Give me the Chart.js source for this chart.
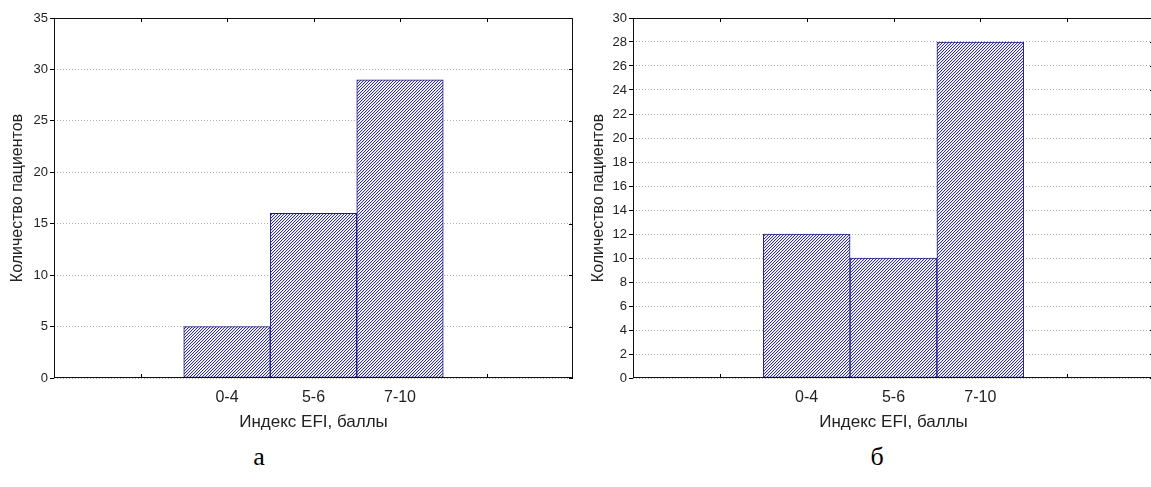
<!DOCTYPE html>
<html>
<head>
<meta charset="utf-8">
<script src="https://cdn.jsdelivr.net/npm/chart.js@4.4.1/dist/chart.umd.min.js"></script>
<style>
  html, body { margin: 0; padding: 0; background: #fff; }
  body { width: 1151px; height: 487px; position: relative; overflow: hidden; }
  #wrapA { position: absolute; left: 0; top: 0; width: 580px; height: 440px; }
  #wrapB { position: absolute; left: 580px; top: 0; width: 576px; height: 440px; }
  .cap { position: absolute; font-family: "Liberation Serif", "Times New Roman", serif; font-size: 26px; color: #000; transform: translate(-50%, -50%); line-height: 1; }
</style>
</head>
<body>
<div id="wrapA"><canvas id="chartA"></canvas></div>
<div id="wrapB"><canvas id="chartB"></canvas></div>
<div class="cap" style="left:259px; top:457px;">а</div>
<div class="cap" style="left:877px; top:457px;">б</div>

<script>
// EFI index groups and patient counts for the two cohorts
const categories = ['0-4', '5-6', '7-10'];
const patientsA = [5, 16, 29];
const patientsB = [12, 10, 28];

// value-axis tick settings for each panel
const yTicksA = { max: 35, step: 5 };
const yTicksB = { max: 30, step: 2 };

const xTitle = 'Индекс EFI, баллы';
const yTitle = 'Количество пациентов';

// two empty slots on each side of the groups
const pad = ['', ''];
const slotLabels = [...pad, ...categories, ...pad];
const slotData = vals => [...pad.map(() => null), ...vals, ...pad.map(() => null)];

function hatchPattern() {
  const c = document.createElement('canvas');
  c.width = 3; c.height = 3;
  const g = c.getContext('2d');
  g.fillStyle = '#ffffff';
  g.fillRect(0, 0, 3, 3);
  for (let i = 0; i < 3; i++) {
    g.fillStyle = '#34349a';
    g.fillRect(i, 2 - i, 1, 1);
    g.fillStyle = '#dcdcee';
    g.fillRect((i + 1) % 3, 2 - i, 1, 1);
  }
  return g.createPattern(c, 'repeat');
}

// full frame plus the small inward ticks on the top, bottom and right edges
const framePlugin = {
  id: 'frame',
  beforeDatasetsDraw(chart) {
    const { ctx, chartArea: a, scales: { x, y } } = chart;
    ctx.save();
    ctx.strokeStyle = '#000';
    ctx.lineWidth = 1;
    ctx.beginPath();
    const n = x.getLabels().length;
    for (let i = 1; i < n - 1; i++) {
      const px = Math.round(x.getPixelForTick(i)) + 0.5;
      ctx.moveTo(px, a.top); ctx.lineTo(px, a.top + 4);
      ctx.moveTo(px, a.bottom); ctx.lineTo(px, a.bottom - 4);
    }
    y.ticks.forEach((t, i) => {
      const py = Math.round(y.getPixelForTick(i)) + 0.5;
      ctx.moveTo(a.right, py); ctx.lineTo(a.right - 4, py);
    });
    ctx.stroke();
    ctx.restore();
  },
  afterDatasetsDraw(chart) {
    const { ctx, chartArea: a } = chart;
    ctx.save();
    ctx.strokeStyle = '#111';
    ctx.lineWidth = 1;
    const l = Math.round(a.left) + 0.5, t = Math.round(a.top) + 0.5;
    const r = Math.round(a.right) - 0.5, b = Math.round(a.bottom) - 0.5;
    ctx.strokeRect(l, t, r - l, b - t);
    ctx.restore();
  }
};

function makeChart(id, values, yt, axisWidth, rightPad, titlePadTop) {
  return new Chart(document.getElementById(id), {
    type: 'bar',
    data: {
      labels: slotLabels,
      datasets: [{
        data: slotData(values),
        backgroundColor: hatchPattern(),
        borderColor: '#1c1c84',
        borderWidth: 1,
        borderSkipped: false,
        barPercentage: 1,
        categoryPercentage: 1
      }]
    },
    options: {
      responsive: true,
      maintainAspectRatio: false,
      animation: false,
      layout: { padding: { top: 18, right: rightPad, bottom: 0, left: 0 } },
      plugins: { legend: { display: false }, tooltip: { enabled: false } },
      scales: {
        x: {
          type: 'category',
          offset: false,
          grid: { display: false },
          border: { display: false },
          ticks: {
            autoSkip: false, maxRotation: 0, padding: 2,
            color: '#222',
            font: { family: '"Liberation Sans", Arial, sans-serif', size: 16 }
          },
          title: {
            display: true, text: xTitle, color: '#222',
            font: { family: '"Liberation Sans", Arial, sans-serif', size: 17 },
            padding: { top: 0, bottom: 7 }
          },
          afterFit(s) { s.height = 62; }
        },
        y: {
          min: 0, max: yt.max,
          grid: {
            color: '#b0b0b0', lineWidth: 1,
            drawTicks: true, tickLength: 4, tickColor: '#000', tickBorderDash: []
          },
          border: { display: false, dash: [1, 2] },
          ticks: {
            stepSize: yt.step, padding: 2, color: '#222',
            font: { family: '"Liberation Sans", Arial, sans-serif', size: 13 }
          },
          title: {
            display: true, text: yTitle, color: '#222',
            font: { family: '"Liberation Sans", Arial, sans-serif', size: 16 },
            padding: { top: titlePadTop, bottom: 0 }
          },
          afterFit(s) { s.width = axisWidth; }
        }
      }
    },
    plugins: [framePlugin]
  });
}

makeChart('chartA', patientsA, yTicksA, 54, 7, 8);
makeChart('chartB', patientsB, yTicksB, 53, 2, 8.5);
</script>
</body>
</html>
